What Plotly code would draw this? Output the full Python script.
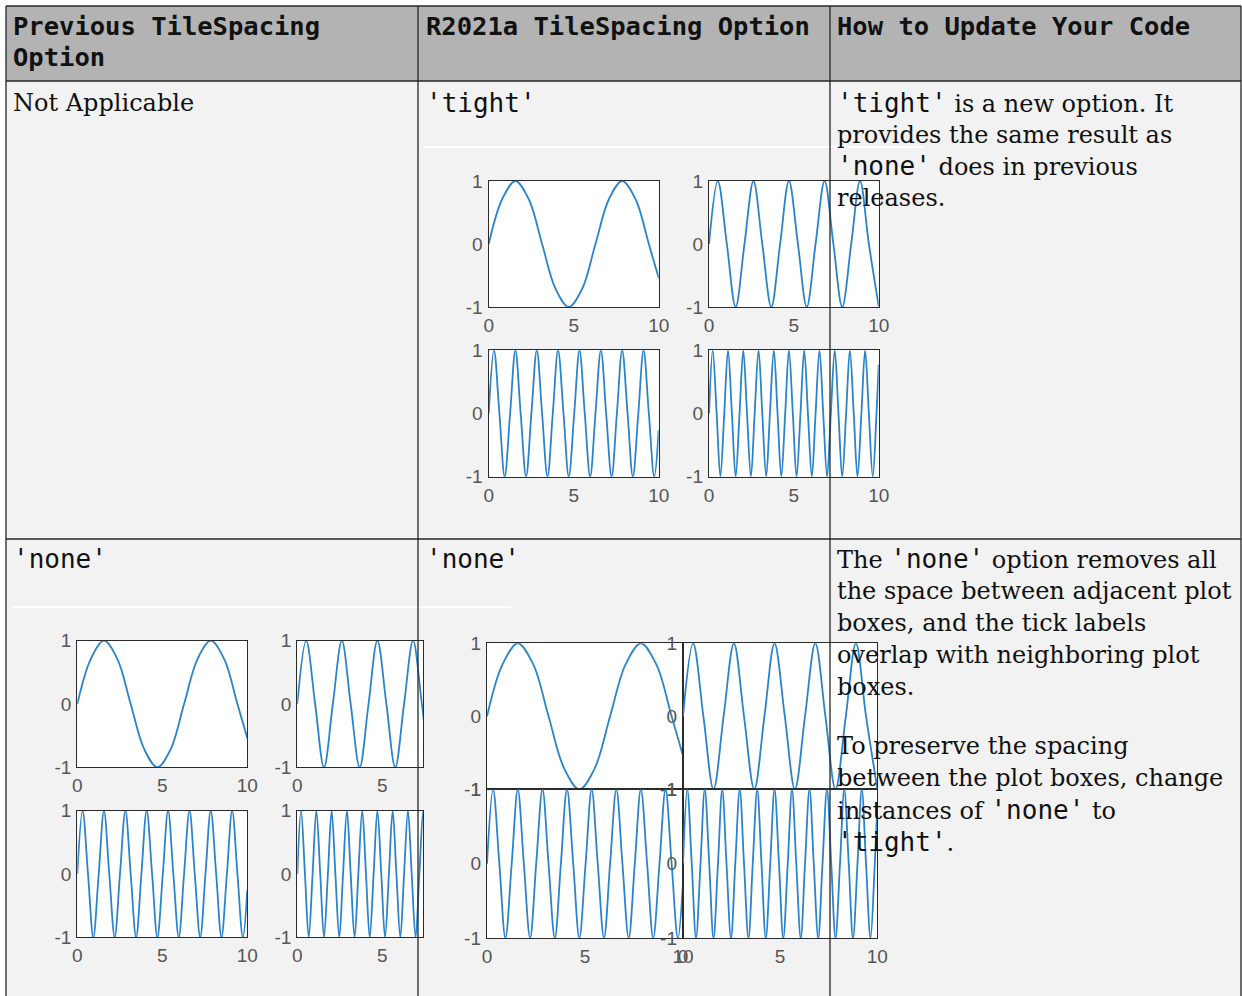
import plotly.graph_objects as go

W, H = 1242, 996

# ---------------- data ----------------
# curve A : one slow wave
xa = [0, 0.79, 1.57, 2.36, 3.14, 3.93, 4.71, 5.50, 6.28, 7.07, 7.85, 8.64, 9.42, 10]
ya = [0, 0.71, 1, 0.71, 0, -0.71, -1, -0.71, 0, 0.71, 1, 0.71, 0, -0.54]

# curve B : ~5 peaks
xb = [0, 0.52, 1.05, 1.57, 2.09, 2.62, 3.14, 3.67, 4.19, 4.71, 5.24, 5.76, 6.28,
      6.81, 7.33, 7.85, 8.38, 8.90, 9.42, 10]
yb = [0, 1, 0, -1, 0, 1, 0, -1, 0, 1, 0, -1, 0,
      1, 0, -1, 0, 1, 0, -0.99]

# curve C : ~8 peaks
xc = [0, 0.31, 0.63, 0.94, 1.26, 1.57, 1.88, 2.20, 2.51, 2.83, 3.14, 3.46, 3.77,
      4.08, 4.40, 4.71, 5.03, 5.34, 5.65, 5.97, 6.28, 6.60, 6.91, 7.23, 7.54,
      7.85, 8.17, 8.48, 8.80, 9.11, 9.42, 9.74, 10]
yc = [0, 1, 0, -1, 0, 1, 0, -1, 0, 1, 0, -1, 0,
      1, 0, -1, 0, 1, 0, -1, 0, 1, 0, -1, 0,
      1, 0, -1, 0, 1, 0, -1, -0.26]

# curve D : ~11 peaks
xd = [0, 0.22, 0.45, 0.67, 0.90, 1.12, 1.35, 1.57, 1.80, 2.02, 2.24, 2.47, 2.69,
      2.92, 3.14, 3.37, 3.59, 3.82, 4.04, 4.26, 4.49, 4.71, 4.94, 5.16, 5.39,
      5.61, 5.83, 6.06, 6.28, 6.51, 6.73, 6.96, 7.18, 7.41, 7.63, 7.85, 8.08,
      8.30, 8.53, 8.75, 8.98, 9.20, 9.42, 9.65, 9.87, 10]
yd = [0, 1, 0, -1, 0, 1, 0, -1, 0, 1, 0, -1, 0,
      1, 0, -1, 0, 1, 0, -1, 0, 1, 0, -1, 0,
      1, 0, -1, 0, 1, 0, -1, 0, 1, 0, -1, 0,
      1, 0, -1, 0, 1, 0, -1, 0, 0.77]

x_ticks = [0, 5, 10]
x_tick_labels = ["0", "5", "10"]
y_ticks = [-1, 0, 1]
y_tick_labels = ["-1", "0", "1"]

headers = ["Previous TileSpacing<br>Option", "R2021a TileSpacing Option", "How to Update Your Code"]

curves = {"A": (xa, ya), "B": (xb, yb), "C": (xc, yc), "D": (xd, yd)}

# ---------------- layout helpers ----------------
def fx(p):
    return p / W

def fy(p):
    return 1 - p / H

# panels: curve, pixel box (x0, y0, x1, y1), visible x max, show x labels, show y labels
panels = [
    # row 1 'tight'
    ("A", (488.7, 181, 658.7, 307), 10, True, True),
    ("B", (709, 181, 878.7, 307), 10, True, True),
    ("C", (488.7, 350.3, 658.7, 476.7), 10, True, True),
    ("D", (709, 350.3, 878.7, 476.7), 10, True, True),
    # row 2 previous 'none' (right tiles cut off by the next cell)
    ("A", (77.3, 640.7, 247.3, 767.3), 10, True, True),
    ("B", (297.3, 640.7, 423, 767.3), 10 * (423 - 297.3) / 170, True, True),
    ("C", (77.3, 810.7, 247.3, 937.3), 10, True, True),
    ("D", (297.3, 810.7, 423, 937.3), 10 * (423 - 297.3) / 170, True, True),
    # row 2 R2021a 'none'
    ("A", (487, 643.3, 683, 789.3), 10, False, True),
    ("B", (683, 643.3, 877.3, 789.3), 10, False, True),
    ("C", (487, 789.3, 683, 938.3), 10, True, True),
    ("D", (683, 789.3, 877.3, 938.3), 10, True, True),
]

fig = go.Figure()
tickfont = dict(family="Liberation Sans, Arial, sans-serif", size=19, color="#555555")
layout_axes = {}
for i, (c, (x0, y0, x1, y1), xmax, showx, showy) in enumerate(panels):
    n = i + 1
    sx = "" if n == 1 else str(n)
    xs, ys = curves[c]
    fig.add_trace(go.Scatter(
        x=xs, y=ys, mode="lines",
        line=dict(color="#2a84c9", width=1.8, shape="spline"),
        xaxis="x" + sx, yaxis="y" + sx, showlegend=False, hoverinfo="skip"))
    layout_axes["xaxis" + sx] = dict(
        domain=[fx(x0), fx(x1)], anchor="y" + sx, range=[0, xmax],
        tickvals=x_ticks, ticktext=x_tick_labels, showticklabels=showx,
        showline=True, mirror=True, linecolor="#2b2b2b", linewidth=1.4,
        showgrid=False, zeroline=False, ticks="", tickfont=tickfont,
        ticklabelstandoff=1, fixedrange=True)
    layout_axes["yaxis" + sx] = dict(
        domain=[fy(y1), fy(y0)], anchor="x" + sx, range=[-1, 1],
        tickvals=y_ticks, ticktext=y_tick_labels, showticklabels=showy,
        showline=True, mirror=True, linecolor="#2b2b2b", linewidth=1.4,
        showgrid=False, zeroline=False, ticks="", tickfont=tickfont,
        ticklabelstandoff=1, fixedrange=True)

shapes = []
def rect(x0, y0, x1, y1, color, layer="below"):
    shapes.append(dict(type="rect", xref="paper", yref="paper",
                       x0=fx(x0), x1=fx(x1), y0=fy(y1), y1=fy(y0),
                       fillcolor=color, line=dict(width=0), layer=layer))

def line(x0, y0, x1, y1, color="#262626", width=1.3):
    shapes.append(dict(type="line", xref="paper", yref="paper",
                       x0=fx(x0), x1=fx(x1), y0=fy(y0), y1=fy(y1),
                       line=dict(color=color, width=width), layer="above"))

# page margins (white) and header band
rect(0, 0, W, 6, "#ffffff")
rect(0, 0, 6, H, "#ffffff")
rect(1241, 0, W, H, "#ffffff")
rect(6, 6, 1241, 81, "#b3b3b3")
# thin white top edges of the embedded pictures
rect(423, 146, 923, 148, "#ffffff")
rect(12, 606, 511, 608, "#ffffff")

# table borders
for xv in [6, 418, 830, 1241]:
    line(xv, 6, xv, H)
for yv in [6, 81, 539]:
    line(6, yv, 1241, yv)

SERIF = "DejaVu Serif, serif"
MONO = "DejaVu Sans Mono, monospace"
CODE_SIZE = 26

def code(t, size=CODE_SIZE):
    return f"<span style=\"font-family:{MONO};font-size:{size}px\">{t}</span>"

annotations = []
def text(x, y, t, family=SERIF, size=24, bold=False):
    annotations.append(dict(
        xref="paper", yref="paper", x=fx(x), y=fy(y), xanchor="left", yanchor="middle",
        text=(f"<b>{t}</b>" if bold else t), showarrow=False, align="left",
        font=dict(family=family, size=size, color="#111111")))

# headers
text(11, 26, "Previous TileSpacing", MONO, 25.5, True)
text(11, 57, "Option", MONO, 25.5, True)
text(424, 26, headers[1], MONO, 25.5, True)
text(835, 26, headers[2], MONO, 25.5, True)

# row 1
text(11, 103, "Not Applicable")
text(424, 103, "'tight'", MONO, CODE_SIZE)
row1 = [code("'tight'") + " is a new option. It",
        "provides the same result as",
        code("'none'") + " does in previous",
        "releases."]
for k, t in enumerate(row1):
    text(835, 103 + 31.7 * k, t)

# row 2
text(11, 559, "'none'", MONO, CODE_SIZE)
text(424, 559, "'none'", MONO, CODE_SIZE)
row2a = ["The " + code("'none'") + " option removes all",
         "the space between adjacent plot",
         "boxes, and the tick labels",
         "overlap with neighboring plot",
         "boxes."]
for k, t in enumerate(row2a):
    text(835, 559 + 32 * k, t)
row2b = ["To preserve the spacing",
         "between the plot boxes, change",
         "instances of " + code("'none'") + " to",
         code("'tight'") + "."]
for k, t in enumerate(row2b):
    text(835, 746 + 32 * k, t)

fig.update_layout(
    width=W, height=H, margin=dict(l=0, r=0, t=0, b=0, pad=0, autoexpand=False),
    paper_bgcolor="#f2f2f2", plot_bgcolor="#ffffff",
    shapes=shapes, annotations=annotations, showlegend=False,
    **layout_axes)

fig.write_html(
    "out.html", config={"displayModeBar": False},
    post_script="document.body.style.margin='0';document.body.style.overflow='hidden';")
